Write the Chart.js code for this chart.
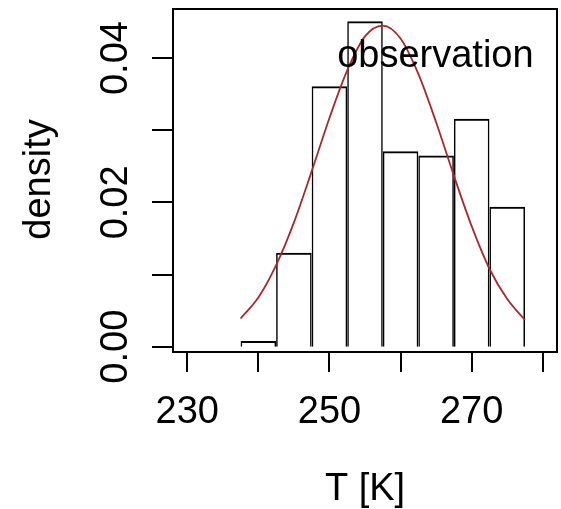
<!DOCTYPE html>
<html>
<head>
<meta charset="utf-8">
<script src="https://cdn.jsdelivr.net/npm/chart.js@4/dist/chart.umd.min.js"></script>
<style>
html,body{margin:0;padding:0;background:#fff;}
canvas{display:block;}
</style>
</head>
<body>
<canvas id="c" width="561" height="509"></canvas>
<script>
// Histogram bins (centres, K) and densities
const binCenters = [240, 245, 250, 255, 260, 265, 270, 275];
const binDensity = [0.0008, 0.0130, 0.0361, 0.0451, 0.0271, 0.0265, 0.0316, 0.0194];
// Fitted density curve
const curveX = [237.5, 240, 242.5, 245, 247.5, 250, 252.5, 255, 257.5, 260, 262.5, 265, 267.5, 270, 272.5, 275, 277.5];
const curveY = [0.0039, 0.0068, 0.0113, 0.0172, 0.0243, 0.0317, 0.0383, 0.0430, 0.0445, 0.0427, 0.0378, 0.0311, 0.0237, 0.0167, 0.0108, 0.0066, 0.0037];
// Axis ticks and labels
const xTicks = [230, 240, 250, 260, 270, 280];
const xLabels = ["230", "250", "270"];
const yTicks = [0, 0.01, 0.02, 0.03, 0.04];
const yLabels = ["0.00", "0.02", "0.04"];
const xTitle = "T [K]";
const yTitle = "density";
const annotation = {x: 264.9, y: 0.0387, text: "observation"};

const FONT = '38px "Liberation Sans", Arial, sans-serif';

const rAxes = {
  id: 'rAxes',
  afterDraw(chart) {
    const ctx = chart.ctx, ca = chart.chartArea;
    const xs = chart.scales.x, ys = chart.scales.y;
    ctx.save();
    ctx.strokeStyle = '#000';
    ctx.fillStyle = '#000';
    ctx.lineWidth = 2;
    // box
    ctx.strokeRect(ca.left, ca.top, ca.right - ca.left, ca.bottom - ca.top);
    // x ticks
    ctx.beginPath();
    xTicks.forEach(v => {
      const px = Math.round(xs.getPixelForValue(v));
      ctx.moveTo(px, ca.bottom);
      ctx.lineTo(px, ca.bottom + 20);
    });
    // y ticks
    yTicks.forEach(v => {
      const py = Math.round(ys.getPixelForValue(v));
      ctx.moveTo(ca.left - 21, py);
      ctx.lineTo(ca.left, py);
    });
    ctx.stroke();
    ctx.font = FONT;
    // x labels
    ctx.textAlign = 'center';
    ctx.textBaseline = 'alphabetic';
    xLabels.forEach(l => {
      ctx.fillText(l, xs.getPixelForValue(parseFloat(l)), 423);
    });
    ctx.fillText(xTitle, (ca.left + ca.right) / 2, 500);
    // annotation
    ctx.fillText(annotation.text, xs.getPixelForValue(annotation.x), ys.getPixelForValue(annotation.y));
    // y labels (rotated)
    yLabels.forEach(l => {
      const py = ys.getPixelForValue(parseFloat(l));
      ctx.save();
      ctx.translate(127, py);
      ctx.rotate(-Math.PI / 2);
      ctx.fillText(l, 0, 0);
      ctx.restore();
    });
    ctx.save();
    ctx.translate(50, (ca.top + ca.bottom) / 2 - 1);
    ctx.rotate(-Math.PI / 2);
    ctx.fillText(yTitle, 0, 0);
    ctx.restore();
    ctx.restore();
  }
};

new Chart(document.getElementById('c'), {
  type: 'bar',
  data: {
    datasets: [
      {
        type: 'bar',
        data: binCenters.map((x, i) => ({x: x, y: binDensity[i]})),
        backgroundColor: 'rgba(255,255,255,0)',
        borderColor: '#000',
        borderWidth: {top: 2, left: 1.5, right: 1.5, bottom: 0},
        borderSkipped: 'start',
        barPercentage: 1,
        categoryPercentage: 1,
        inflateAmount: 0,
        order: 2
      },
      {
        type: 'line',
        data: curveX.map((x, i) => ({x: x, y: curveY[i]})),
        borderColor: '#a52a2a',
        borderWidth: 1.8,
        pointRadius: 0,
        fill: false,
        cubicInterpolationMode: 'monotone',
        order: 1
      }
    ]
  },
  options: {
    responsive: false,
    animation: false,
    layout: {padding: {left: 173, right: 4, top: 9, bottom: 157}},
    plugins: {legend: {display: false}, tooltip: {enabled: false}},
    scales: {
      x: {type: 'linear', min: 228, max: 282, display: false, offset: false,
          ticks: {stepSize: 10, includeBounds: false}, grid: {display: false, offset: false}},
      y: {type: 'linear', min: -0.00074, max: 0.0468, display: false,
          ticks: {stepSize: 0.01, includeBounds: false}, grid: {display: false}}
    }
  },
  plugins: [rAxes]
});
</script>
</body>
</html>
